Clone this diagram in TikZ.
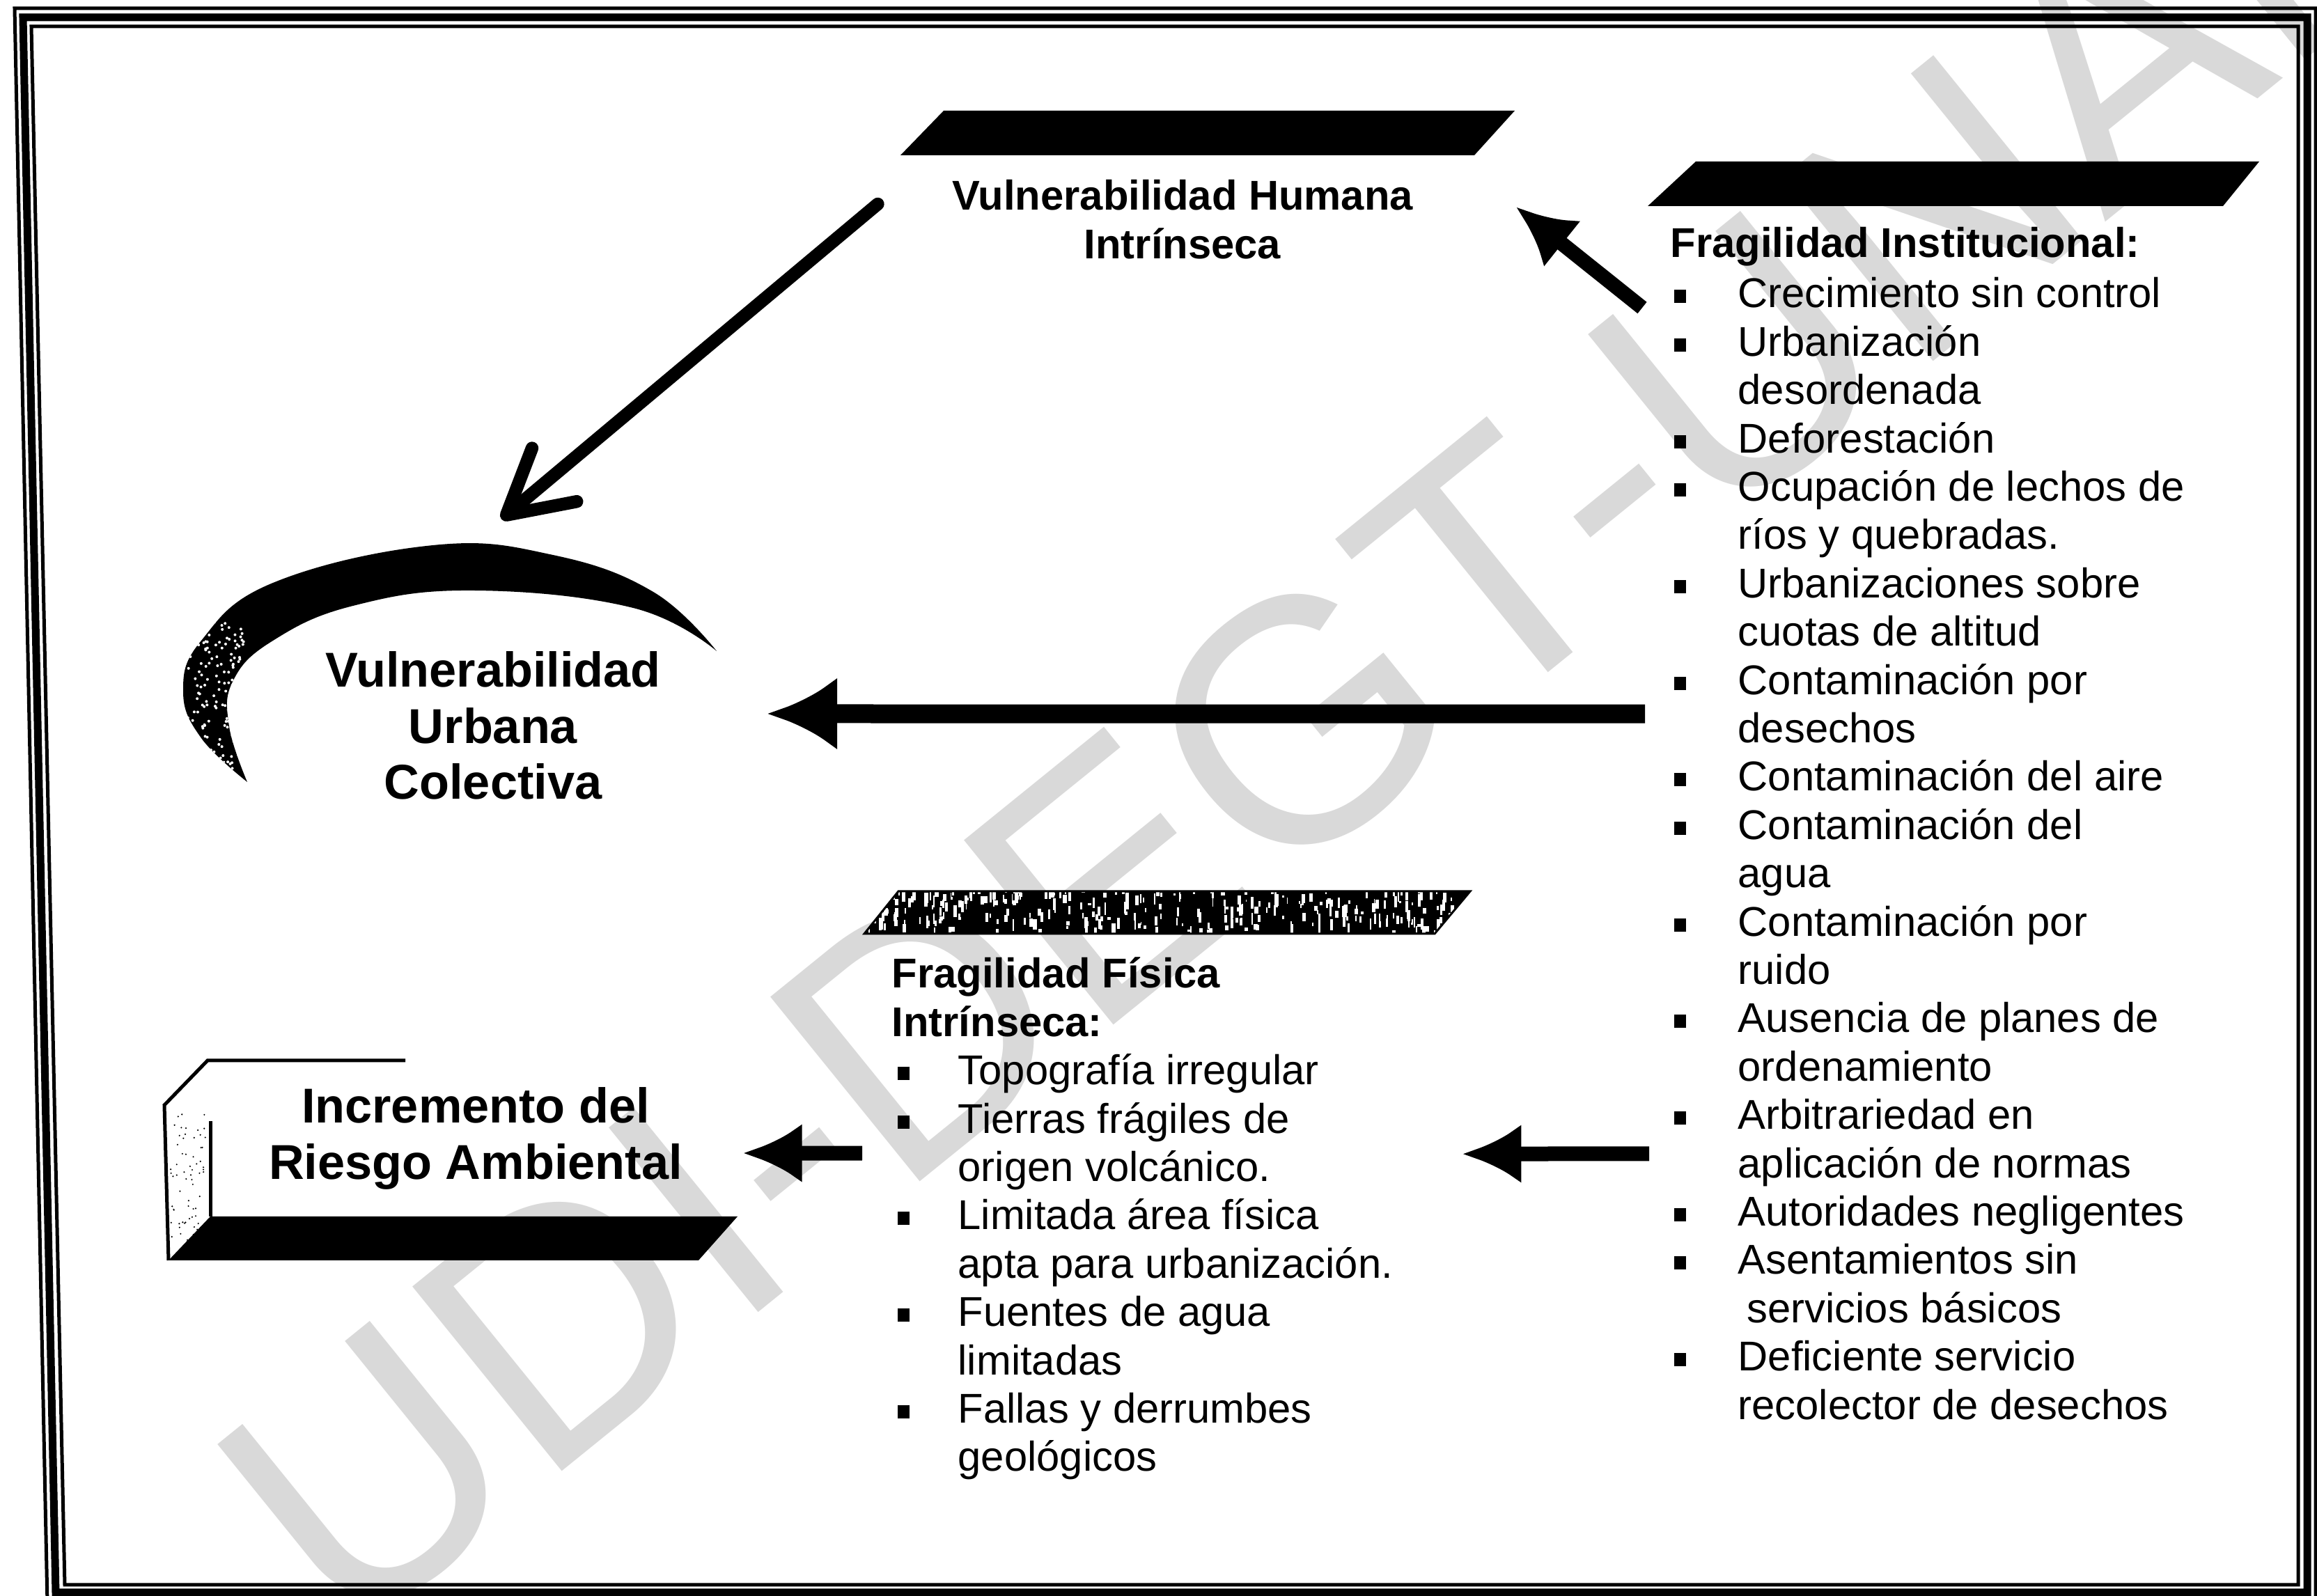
\documentclass[tikz,border=0pt]{standalone}
\usepackage{fontspec}
\setmainfont{Liberation Sans}
\usetikzlibrary{arrows.meta}

\tikzstyle{blackbar}=[fill=black]
\tikzstyle{itemtext}=[anchor=base west,inner sep=0pt,font=\fontsize{17}{20}\selectfont]
\tikzstyle{headtext}=[itemtext,font=\fontsize{17}{20}\selectfont\bfseries]
\tikzstyle{sqbullet}=[rectangle,fill=black,minimum width=0.17cm,minimum height=0.19cm,inner sep=0pt]
\tikzstyle{bigtext}=[align=center,inner sep=0pt,font=\fontsize{20}{23}\selectfont\bfseries]
\tikzstyle{midtext}=[align=center,inner sep=0pt,font=\fontsize{17}{19.9}\selectfont\bfseries]
\tikzstyle{fatarrow}=[line width=0.21cm,-{Latex[length=0.85cm,width=0.85cm]}]
\tikzstyle{longarrow}=[line width=0.27cm,-{Latex[length=1.0cm,width=1.05cm]}]
\tikzstyle{openarrow}=[line width=0.185cm,line cap=round,-{Straight Barb[round,length=0.9cm,width=1.0cm]}]
\tikzstyle{frameline}=[line width=0.05cm]

\def\lunapath{plot[smooth,tension=0.7] coordinates {(3.55,11.69) (2.89,12.32) (2.63,12.99) (2.89,13.72) (3.92,14.55) (6.22,15.09) (7.94,14.95) (9.38,14.42) (10.29,13.57)}
  -- plot[smooth,tension=0.7] coordinates {(10.29,13.57) (9.09,14.19) (6.79,14.44) (5.07,14.22) (3.92,13.72) (3.35,13.15) (3.29,12.49) (3.55,11.69)} -- cycle}

\begin{document}
\begin{tikzpicture}
    \useasboundingbox (0,0) rectangle (33.27,22.92);
    \pgfmathsetseed{4711}
    %Watermark
    \begin{scope}
    \clip (0,0) rectangle (33.27,22.92);
    \node[rotate=39,text=black!15,inner sep=0pt,font=\fontsize{141}{141}\selectfont] (marca) at (19.20,13.00) {UDI-DEGT-UNAN};
    \end{scope}
    %Frame
    \draw[frameline] (0.21,22.80) -- (33.25,22.80) -- (33.25,-0.10) -- (0.68,-0.10) -- cycle;
    \draw[line width=0.11cm] (0.33,22.67) -- (33.13,22.67) -- (33.13,0.05) -- (0.80,0.05) -- cycle;
    \draw[frameline] (0.45,22.54) -- (33.00,22.54) -- (33.00,0.16) -- (0.93,0.16) -- cycle;

    %Bars
    \fill[blackbar] (13.55,21.33) -- (21.75,21.33) -- (21.17,20.69) -- (12.93,20.69) -- cycle;
    \fill[blackbar] (24.35,20.60) -- (32.44,20.60) -- (31.92,19.96) -- (23.66,19.96) -- cycle;
    \begin{scope}
    \clip (12.90,10.12) -- (21.11,10.12) -- (20.60,9.51) -- (12.41,9.51) -- cycle;
    \fill (12.41,9.51) rectangle (21.11,10.12);
    \foreach \k in {1,...,320}
        \fill[white] ({12.4+8.7*rnd},{9.5+0.62*rnd}) rectangle ++({0.015+0.04*rnd},{0.03+0.15*rnd});
    \end{scope}
    \draw[line width=0.03cm] (12.90,10.12) -- (21.11,10.12) -- (20.60,9.51) -- (12.41,9.51) -- cycle;

    %Crescent
    \fill \lunapath;
    \begin{scope}
    \clip \lunapath;
    \foreach \k in {1,...,160}
        \fill[white] ({2.6+0.9*rnd},{11.7+2.3*rnd}) circle (0.02);
    \end{scope}

    %Box
    \draw[frameline] (5.82,7.69) -- (2.98,7.69) -- (2.36,7.05) -- (2.42,4.82);
    \draw[frameline] (3.02,6.82) -- (3.02,5.45);
    \fill (3.02,5.45) -- (10.59,5.45) -- (10.03,4.82) -- (2.42,4.82) -- cycle;
    \foreach \k in {1,...,70}
        \fill ({2.45+0.5*rnd},{5.0+2.0*rnd}) circle (0.012);

    %Main nodes
    \node[midtext] (humana) at (16.98,19.77) {Vulnerabilidad Humana\\Intrínseca};
    \node[bigtext] (urbana) at (7.08,12.50) {Vulnerabilidad\\Urbana\\Colectiva};
    \node[bigtext] (incremento) at (6.83,6.57) {Incremento del\\Riesgo Ambiental};

    %Fragilidad fisica
    \node[headtext] (f0) at (12.80,8.73) {Fragilidad Física};
    \node[headtext] (f1) at (12.80,8.036) {Intrínseca:};
    \foreach \n/\txt in {2/Topografía irregular, 3/Tierras frágiles de, 4/origen volcánico.,
                         5/Limitada área física, 6/apta para urbanización., 7/Fuentes de agua,
                         8/limitadas, 9/Fallas y derrumbes, 10/geológicos}
    \node[itemtext] (f\n) at (13.75,{8.73-0.694*\n}) {\txt};
    \foreach \n in {2,3,5,7,9}
    \node[sqbullet] (fb\n) at (12.97,{8.73-0.694*\n+0.16}) {};

    %Fragilidad institucional
    \node[headtext] (instit) at (23.98,19.22) {Fragilidad Institucional:};
    \foreach \n/\txt in {1/Crecimiento sin control, 2/Urbanización, 3/desordenada, 4/Deforestación,
                         5/Ocupación de lechos de, 6/ríos y quebradas., 7/Urbanizaciones sobre,
                         8/cuotas de altitud, 9/Contaminación por, 10/desechos,
                         11/Contaminación del aire, 12/Contaminación del, 13/agua,
                         14/Contaminación por, 15/ruido, 16/Ausencia de planes de,
                         17/ordenamiento, 18/Arbitrariedad en, 19/aplicación de normas,
                         20/Autoridades negligentes, 21/Asentamientos sin,
                         22/\hspace{0.13cm}servicios básicos, 23/Deficiente servicio,
                         24/recolector de desechos}
    \node[itemtext] (i\n) at (24.95,{18.50-0.694*(\n-1)}) {\txt};
    \foreach \n in {1,2,4,5,7,9,11,12,14,16,18,20,21,23}
    \node[sqbullet] (ib\n) at (24.12,{18.50-0.694*(\n-1)+0.16}) {};

    %Arrows
    \draw[openarrow] ([shift={(-1.06,0.22)}]humana.west) -- ([shift={(0.12,1.89)}]urbana.north);
    \draw[fatarrow] ([xshift=-1.37cm]i1.base west) -- ([shift={(1.47,0.18)}]humana.east);
    \draw[longarrow] ([shift={(-1.33,-0.28)}]i9.base west) -- ([shift={(1.525,0.17)}]urbana.east);
    \draw[fatarrow] ([shift={(-1.27,-0.35)}]i18.base west) -- ([shift={(2.47,-0.30)}]f3.base east);
    \draw[fatarrow] ([shift={(-1.37,-0.29)}]f3.base west) -- ([shift={(0.86,-0.21)}]incremento.east);
\end{tikzpicture}
\end{document}
